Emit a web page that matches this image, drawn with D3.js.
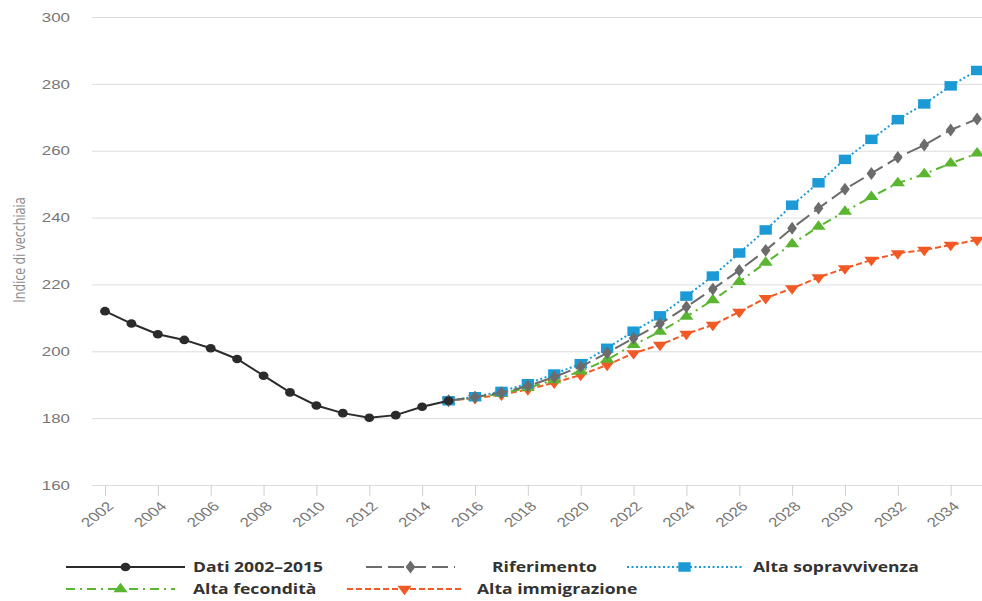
<!DOCTYPE html>
<html>
<head>
<meta charset="utf-8">
<script src="https://cdn.jsdelivr.net/npm/d3@7"></script>
<style>
  body { margin: 0; background: #fff; }
  svg { display: block; font-family: "Open Sans", sans-serif; }
  .y.axis text { fill: #777; font-size: 13px; }
  .x.axis text { fill: #777; font-size: 13px; }
  .legend text { fill: #333; font-size: 15px; font-weight: 700; }
</style>
</head>
<body>
<div id="chart"></div>
<script>
// data
var histYears = [2002, 2003, 2004, 2005, 2006, 2007, 2008, 2009, 2010, 2011, 2012, 2013, 2014, 2015];
var datiValues = [212.0, 208.3, 205.1, 203.4, 200.9, 197.7, 192.7, 187.7, 183.8, 181.5, 180.1, 180.9, 183.4, 185.2];

var projYears = [2015, 2016, 2017, 2018, 2019, 2020, 2021, 2022, 2023, 2024, 2025,
                 2026, 2027, 2028, 2029, 2030, 2031, 2032, 2033, 2034, 2035];
var riferimento = [185.2, 186.3, 187.6, 189.6, 192.3, 195.4, 199.5, 203.9, 208.2, 213.3, 218.6,
                   224.2, 230.2, 236.8, 242.8, 248.5, 253.2, 258.0, 261.7, 266.2, 269.5];
var altaSopravvivenza = [185.2, 186.4, 188.0, 190.3, 193.2, 196.3, 200.9, 206.0, 210.6, 216.5, 222.5,
                         229.4, 236.3, 243.7, 250.4, 257.4, 263.4, 269.3, 274.0, 279.4, 284.0];
var altaFecondita = [185.2, 186.2, 187.3, 189.1, 191.4, 194.0, 197.5, 201.9, 205.9, 210.4, 215.3,
                     220.8, 226.5, 232.1, 237.3, 241.8, 246.2, 250.3, 253.0, 256.2, 259.2];
var altaImmigrazione = [185.2, 186.0, 187.0, 188.6, 190.6, 192.9, 195.9, 199.4, 201.9, 205.2, 207.9,
                        211.8, 215.9, 218.8, 222.1, 224.8, 227.3, 229.3, 230.3, 231.8, 233.3];

var yTicks = [160, 180, 200, 220, 240, 260, 280, 300];
var xTicks = [2002, 2004, 2006, 2008, 2010, 2012, 2014, 2016, 2018, 2020, 2022, 2024, 2026, 2028, 2030, 2032, 2034];

var series = [
  { name: 'Alta immigrazione', years: projYears, values: altaImmigrazione, color: '#f15a24', dash: '6,3', symbol: 'down' },
  { name: 'Alta fecondità', years: projYears, values: altaFecondita, color: '#5ab630', dash: '9,5,2,5', symbol: 'up' },
  { name: 'Alta sopravvivenza', years: projYears, values: altaSopravvivenza, color: '#1b9ad6', dash: '2,2.5', symbol: 'square' },
  { name: 'Riferimento', years: projYears, values: riferimento, color: '#6c6c6c', dash: '16,6', symbol: 'diamond' },
  { name: 'Dati 2002–2015', years: histYears, values: datiValues, color: '#2b2b2b', dash: null, symbol: 'circle' }
];

var width = 982, height = 601;
var plotLeft = 92, plotRight = 982, plotTop = 17, plotBottom = 485;
var stretch = 1.3; // the picture is a bit wider than tall in its glyphs and marks

var x = d3.scaleLinear().domain([2002, 2035]).range([105, 977.1]);
var y = d3.scaleLinear().domain([160, 300]).range([plotBottom, plotTop]);

var svg = d3.select('#chart').append('svg')
    .attr('width', width)
    .attr('height', height);

// y axis with gridlines
var yAxis = svg.append('g')
    .attr('class', 'y axis')
    .attr('transform', 'translate(' + plotLeft + ',0)')
    .call(d3.axisLeft(y).tickValues(yTicks).tickSizeInner(-(plotRight - plotLeft)).tickSizeOuter(0));
yAxis.select('.domain').remove();
yAxis.selectAll('line').attr('stroke', '#dcdcdc').attr('stroke-width', 1);
yAxis.selectAll('text')
    .attr('x', 0)
    .attr('transform', 'translate(-22,0) scale(' + stretch + ',1)');

svg.append('text')
    .attr('transform', 'translate(25,250) rotate(-90) scale(1,' + stretch + ')')
    .attr('text-anchor', 'middle')
    .attr('fill', '#8a8a8a')
    .style('font-size', '12.5px')
    .text('Indice di vecchiaia');

// x axis
var xAxis = svg.append('g')
    .attr('class', 'x axis')
    .attr('transform', 'translate(0,' + plotBottom + ')')
    .call(d3.axisBottom(x).tickValues(xTicks).tickFormat(d3.format('d')).tickSizeInner(11).tickSizeOuter(0));
xAxis.select('.domain').remove();
xAxis.selectAll('line').attr('stroke', '#cfcfcf');
xAxis.selectAll('text')
    .attr('x', 0)
    .attr('y', 0)
    .attr('dy', '0.35em')
    .attr('text-anchor', 'end')
    .attr('transform', 'translate(5,19) scale(' + stretch + ',1) rotate(-45)');

function symbolFor(kind) {
  if (kind === 'circle') return d3.symbol().type(d3.symbolCircle).size(58);
  if (kind === 'square') return d3.symbol().type(d3.symbolSquare).size(90);
  if (kind === 'diamond') return d3.symbol().type(d3.symbolDiamond).size(48);
  return d3.symbol().type(d3.symbolTriangle).size(52);
}

function markTransform(kind, px, py) {
  var sx = kind === 'circle' ? 1.15 : stretch;
  return 'translate(' + px + ',' + py + ') scale(' + sx + ',1)' + (kind === 'down' ? ' rotate(180)' : '');
}

var line = d3.line()
    .x(function (d) { return x(d[0]); })
    .y(function (d) { return y(d[1]); });

series.forEach(function (s) {
  var pts = s.years.map(function (yr, i) { return [yr, s.values[i]]; });
  var g = svg.append('g').attr('class', 'series');
  g.append('path')
      .datum(pts)
      .attr('d', line)
      .attr('fill', 'none')
      .attr('stroke', s.color)
      .attr('stroke-width', 2)
      .attr('stroke-dasharray', s.dash);
  g.selectAll('path.mark')
      .data(pts)
      .enter().append('path')
      .attr('class', 'mark')
      .attr('d', symbolFor(s.symbol))
      .attr('fill', s.color)
      .attr('transform', function (d) { return markTransform(s.symbol, x(d[0]), y(d[1])); });
});

// legend
var legendItems = [
  { s: series[4], x0: 66, x1: 185, tx: 193, ty: 567 },
  { s: series[3], x0: 366, x1: 455, tx: 492, ty: 567 },
  { s: series[2], x0: 627, x1: 742, tx: 753, ty: 567 },
  { s: series[1], x0: 66, x1: 175, tx: 193, ty: 589 },
  { s: series[0], x0: 347, x1: 462, tx: 477, ty: 589 }
];
var legend = svg.append('g').attr('class', 'legend');
legendItems.forEach(function (it) {
  var g = legend.append('g');
  g.append('line')
      .attr('x1', it.x0).attr('x2', it.x1)
      .attr('y1', it.ty).attr('y2', it.ty)
      .attr('stroke', it.s.color)
      .attr('stroke-width', 2)
      .attr('stroke-dasharray', it.s.dash);
  g.append('path')
      .attr('d', symbolFor(it.s.symbol))
      .attr('fill', it.s.color)
      .attr('transform', markTransform(it.s.symbol, (it.x0 + it.x1) / 2, it.ty));
  g.append('text')
      .attr('x', 0)
      .attr('y', 0)
      .attr('dy', '0.35em')
      .attr('transform', 'translate(' + it.tx + ',' + it.ty + ') scale(1.17,1)')
      .text(it.s.name);
});
</script>
</body>
</html>
